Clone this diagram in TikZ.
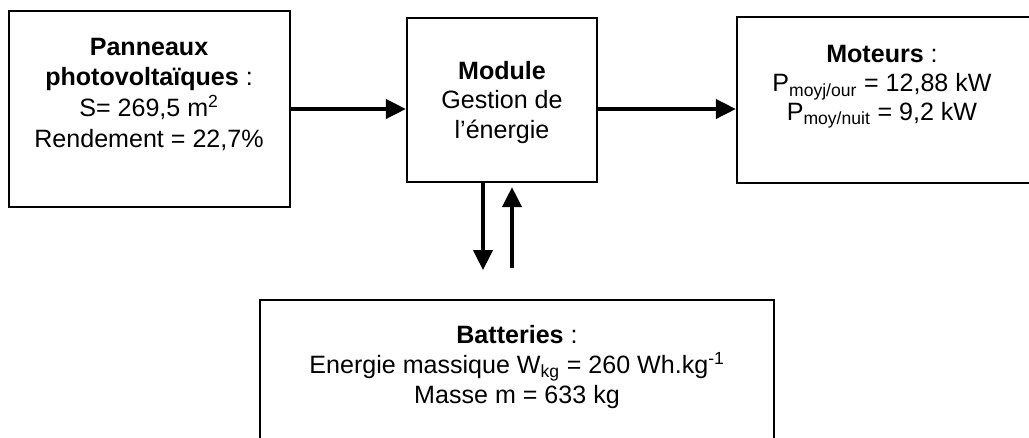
\documentclass[tikz,border=0pt]{standalone}
\usepackage{fontspec}
\setmainfont{Liberation Sans}
\usetikzlibrary{
	arrows.meta,
	fit
}

\begin{document}
\begin{tikzpicture}[x=0.75pt, y=-0.75pt,
		bloc/.style={draw, line width=1.8pt, inner sep=0pt},
		texte/.style={align=center, inner sep=0pt, anchor=base, font=\fontsize{18.8pt}{22.5pt}\selectfont},
		flux/.style={line width=2.4pt, -{Triangle[length=15pt, width=14.5pt]}}]
	\useasboundingbox (0,0) rectangle (1029,437);
	% blocs
	\node[bloc, fit={(9,11) (290,207)}] (pv) {};
	\node[bloc, fit={(407,18) (597,182)}] (gestion) {};
	\node[bloc, fit={(737,17) (1031,183)}] (moteurs) {};
	\node[bloc, fit={(260,300) (774,445)}] (batteries) {};
	% textes (base = derniere ligne)
	\node[texte, font=\fontsize{18.8pt}{23pt}\selectfont] (pvtxt) at (149,147) {\textbf{Panneaux}\\\textbf{photovoltaïques} :\\S= 269,5 m\textsuperscript{2}\\Rendement = 22,7\%};
	\node[texte, font=\fontsize{18.8pt}{21.8pt}\selectfont] (gestiontxt) at (502,138) {\textbf{Module}\\Gestion de\\l’énergie};
	\node[texte, font=\fontsize{18.8pt}{21.4pt}\selectfont] (moteurstxt) at (882,120) {\textbf{Moteurs} :\\P\textsubscript{moyj/our} = 12,88 kW\\P\textsubscript{moy/nuit} = 9,2 kW};
	\node[texte] (batteriestxt) at (517,403) {\textbf{Batteries} :\\Energie massique W\textsubscript{kg} = 260 Wh.kg\textsuperscript{-1}\\Masse m = 633 kg};
	% fleches
	\draw[flux] (pv.east) -- (pv.east -| gestion.west);
	\draw[flux] (gestion.east |- pv.east) -- (pv.east -| moteurs.west);
	\coordinate (charge) at (483,270);
	\coordinate (decharge) at (512,268);
	\draw[flux] (gestion.south -| charge) -- (charge);
	\draw[flux] (decharge) -- ([yshift=-3pt]gestion.south -| decharge);
\end{tikzpicture}
\end{document}
